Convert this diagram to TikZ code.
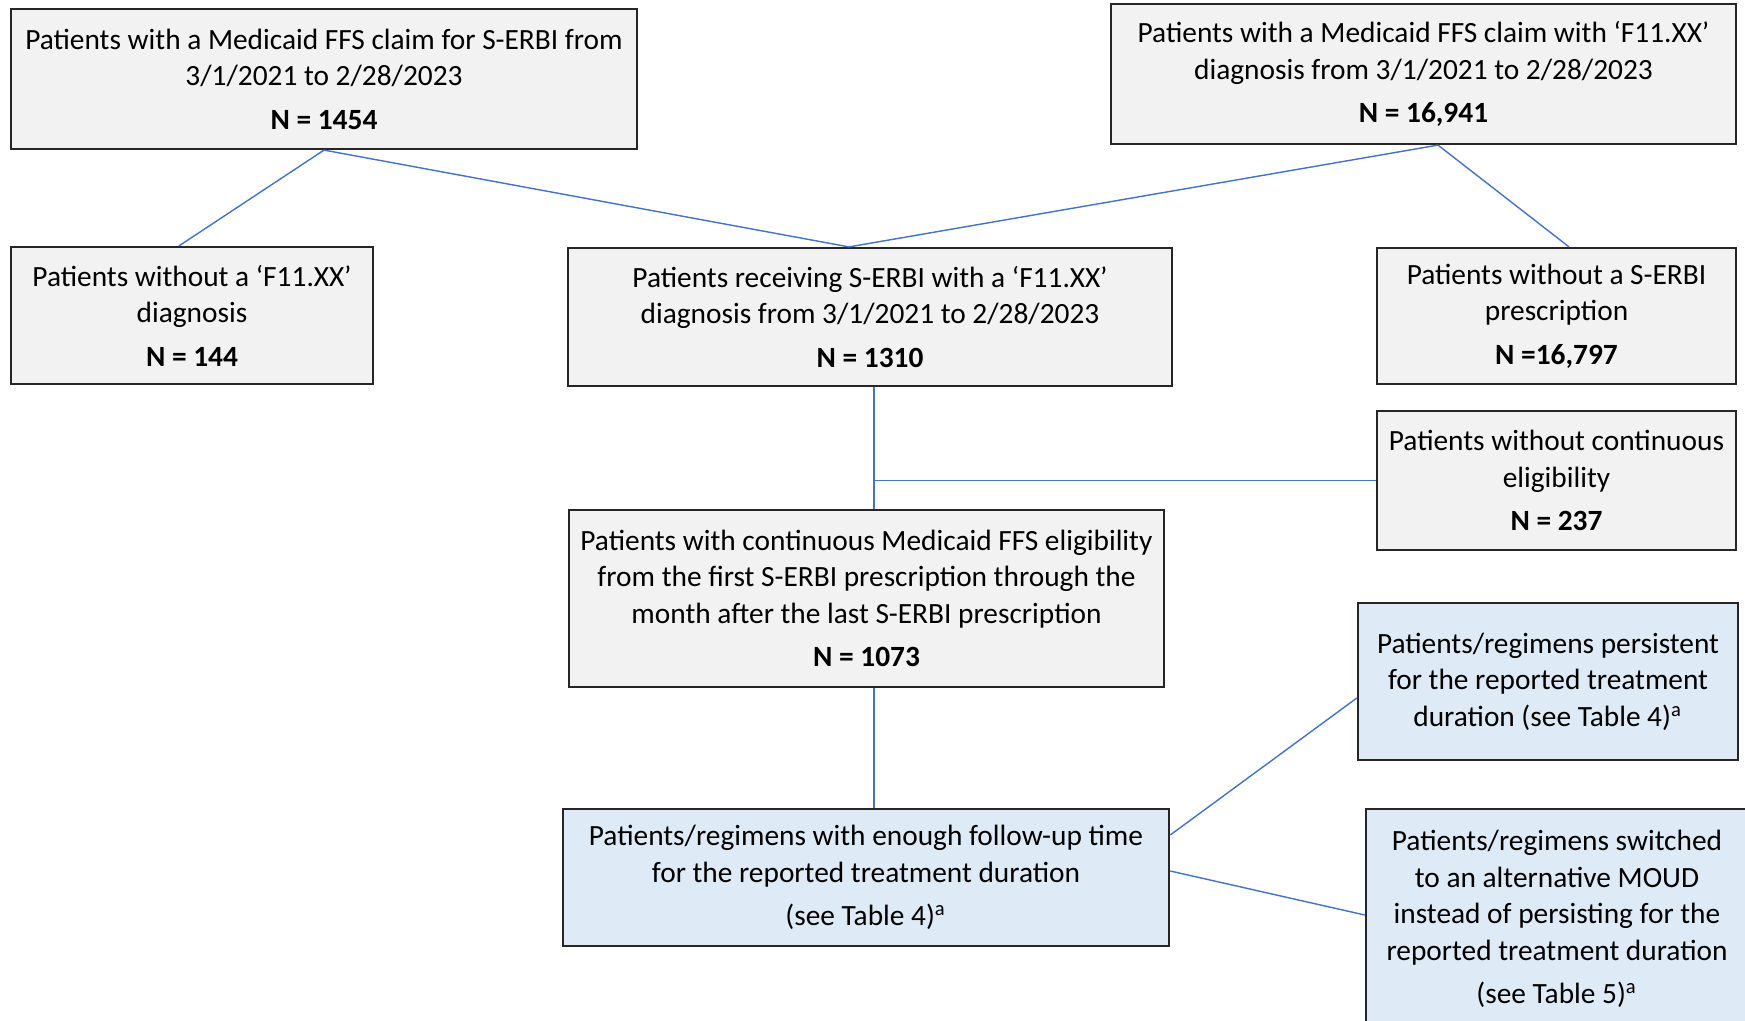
\documentclass[tikz,border=0pt]{standalone}
\usepackage{fontspec}
\setmainfont{Carlito}
\usetikzlibrary{calc}

\definecolor{boxgray}{HTML}{F2F2F2}
\definecolor{boxblue}{HTML}{DEEBF7}
\definecolor{linkblue}{HTML}{4472C4}
\definecolor{edgegray}{HTML}{262626}

\tikzset{
  greybox/.style={draw=edgegray, line width=0.6pt, fill=boxgray, align=center,
    inner sep=0pt, font=\fontsize{8.35}{10.4}\selectfont},
  bluebox/.style={greybox, fill=boxblue},
  link/.style={linkblue, line width=0.4pt}
}

\begin{document}
\begin{tikzpicture}[x=0.01cm, y=-0.01cm]
        \useasboundingbox (0,0) rectangle (1745,1021);

        % top row
        \node[greybox, minimum width=6.26cm, minimum height=1.40cm] (A) at (324,79)
          {Patients with a Medicaid FFS claim for S-ERBI from\\ 3/1/2021 to 2/28/2023\\[2pt] \textbf{N = 1454}};
        \node[greybox, minimum width=6.25cm, minimum height=1.40cm] (B) at (1423.5,74)
          {Patients with a Medicaid FFS claim with ‘F11.XX’\\ diagnosis from 3/1/2021 to 2/28/2023\\[2pt] \textbf{N = 16,941}};

        % second row
        \node[greybox, minimum width=3.62cm, minimum height=1.37cm] (C) at (192,315.5)
          {Patients without a ‘F11.XX’\\ diagnosis\\[2pt] \textbf{N = 144}};
        \node[greybox, minimum width=6.04cm, minimum height=1.38cm] (D) at (870,317)
          {Patients receiving S-ERBI with a ‘F11.XX’\\ diagnosis from 3/1/2021 to 2/28/2023\\[2pt] \textbf{N = 1310}};
        \node[greybox, minimum width=3.59cm, minimum height=1.36cm] (E) at (1556.5,316)
          {Patients without a S-ERBI\\ prescription\\[2pt] \textbf{N =16,797}};

        \node[greybox, minimum width=3.59cm, minimum height=1.39cm] (F) at (1556.5,480.5)
          {Patients without continuous\\ eligibility\\[2pt] \textbf{N = 237}};
        \node[greybox, minimum width=5.95cm, minimum height=1.77cm] (G) at (866.5,598.5)
          {Patients with continuous Medicaid FFS eligibility\\ from the first S-ERBI prescription through the\\
           month after the last S-ERBI prescription\\[2pt] \textbf{N = 1073}};

        % follow-up
        \node[bluebox, minimum width=3.80cm, minimum height=1.57cm] (H) at (1548,681.5)
          {Patients/regimens persistent\\ for the reported treatment\\ duration (see Table 4)\textsuperscript{a}};
        \node[bluebox, minimum width=6.06cm, minimum height=1.37cm] (I) at (866,877.5)
          {Patients/regimens with enough follow-up time\\ for the reported treatment duration\\[2pt] (see Table 4)\textsuperscript{a}};
        \node[bluebox, minimum width=3.82cm, minimum height=2.20cm] (J) at (1557,919)
          {Patients/regimens switched\\ to an alternative MOUD\\ instead of persisting for the\\
           reported treatment duration\\[2pt] (see Table 5)\textsuperscript{a}};

        \draw[link] (A.south) -- ([xshift=-0.13cm]C.north);
        \draw[link] (A.south) -- ([xshift=-0.21cm]D.north);
        \draw[link] ([xshift=0.145cm]B.south) -- ([xshift=-0.21cm]D.north);
        \draw[link] ([xshift=0.145cm]B.south) -- ([xshift=0.125cm]E.north);

        \coordinate (split) at ([xshift=0.04cm]D.south |- F.west);
        \draw[link] ([xshift=0.04cm]D.south) -- ([xshift=0.04cm]D.south |- G.north);
        \draw[link] (split) -- (F.west);
        \draw[link] ([xshift=0.075cm]G.south) -- ([xshift=0.075cm]G.south |- I.north);

        \draw[link] ([yshift=0.425cm]I.east) -- ([yshift=-0.165cm]H.west);
        \draw[link] ([yshift=0.065cm]I.east) -- ([yshift=0.04cm]J.west);
    \end{tikzpicture}
\end{document}
